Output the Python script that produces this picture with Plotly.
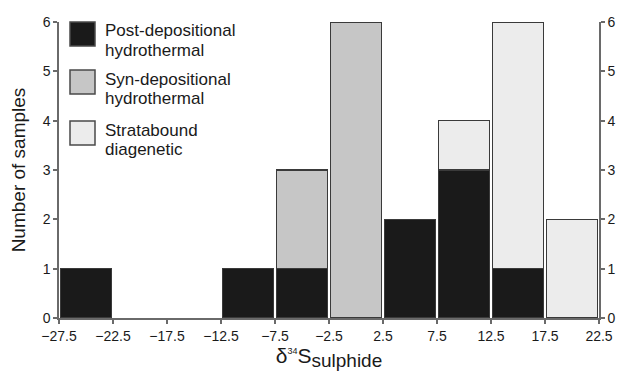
import plotly.graph_objects as go

bin_centers = [-25, -20, -15, -10, -5, 0, 5, 10, 15, 20]
post_depositional = [1, 0, 0, 1, 1, 0, 2, 3, 1, 0]
syn_depositional = [0, 0, 0, 0, 2, 6, 0, 0, 0, 0]
stratabound = [0, 0, 0, 0, 0, 0, 0, 1, 5, 2]
x_ticks = [-27.5, -22.5, -17.5, -12.5, -7.5, -2.5, 2.5, 7.5, 12.5, 17.5, 22.5]
y_ticks = [0, 1, 2, 3, 4, 5, 6]

series = [
    (["Post-depositional", "hydrothermal"], post_depositional, "#1a1a1a"),
    (["Syn-depositional", "hydrothermal"], syn_depositional, "#c6c6c6"),
    (["Stratabound", "diagenetic"], stratabound, "#ececec"),
]

FONT = "Liberation Sans, Arial, Helvetica, sans-serif"
fig = go.Figure()
for lines, vals, col in series:
    xs = [c for c, v in zip(bin_centers, vals) if v]
    ys = [v for v in vals if v]
    fig.add_trace(go.Bar(
        x=xs, y=ys, name=" ".join(lines), width=4.7,
        marker=dict(color=col, line=dict(color="#3a3a3a", width=1.2)),
        showlegend=False, hoverinfo="x+y+name",
    ))
# invisible trace to drive the right-hand axis
fig.add_trace(go.Scatter(x=[bin_centers[0]], y=[0], yaxis="y2", mode="markers",
                         marker=dict(opacity=0), showlegend=False, hoverinfo="skip"))

W, H = 619, 374
PL, PR, PT, PB = 59, 599, 22, 318  # plot area in window pixels
L, R, T, B = PL, W - PR, PT, H - PB

def px(xs):
    return (xs - PL) / (PR - PL)

def py(ys):
    return (PB - ys) / (PB - PT)

shapes = []
annotations = []
legend_tops = [22, 70, 121]
for (lines, vals, col), top in zip(series, legend_tops):
    shapes.append(dict(type="rect", xref="paper", yref="paper",
                       x0=px(70), x1=px(95), y0=py(top + 24), y1=py(top),
                       fillcolor=col, line=dict(color="#4a4a4a", width=1.5)))
    for i, line in enumerate(lines):
        annotations.append(dict(xref="paper", yref="paper", x=px(103), y=py(top + 9 + 19.5 * i),
                                xanchor="left", yanchor="middle", align="left",
                                showarrow=False, text=line,
                                font=dict(family=FONT, size=17, color="#1a1a1a")))

axis_common = dict(showline=True, linecolor="#6a6a6a", linewidth=1.5,
                   ticks="outside", ticklen=4, tickcolor="#6a6a6a", tickwidth=1.5,
                   showgrid=False, zeroline=False, automargin=False,
                   tickfont=dict(family=FONT, size=14, color="#1a1a1a"))

fig.update_layout(
    width=W, height=H,
    margin=dict(l=L, r=R, t=T, b=B),
    paper_bgcolor="white", plot_bgcolor="white",
    barmode="stack",
    shapes=shapes, annotations=annotations,
    xaxis=dict(range=[-27.5, 22.5], tickvals=x_ticks,
               ticktext=[("\u2212" + f"{abs(v)}") if v < 0 else f"{v}" for v in x_ticks],
               title=dict(text="\u03b4<sup><span style='font-size:9px'>34</span></sup>S<sub><span style='font-size:19px'>sulphide</span></sub>",
                          font=dict(family=FONT, size=21, color="#1a1a1a"), standoff=3),
               **axis_common),
    yaxis=dict(range=[0, 6], tickvals=y_ticks,
               title=dict(text="Number of samples", font=dict(family=FONT, size=19, color="#1a1a1a"),
                          standoff=12),
               **axis_common),
    yaxis2=dict(range=[0, 6], tickvals=y_ticks, overlaying="y", side="right",
                **axis_common),
)

fig.write_html("out.html", config={"displayModeBar": False},
               post_script="document.body.style.margin='0';document.body.style.overflow='hidden';")
